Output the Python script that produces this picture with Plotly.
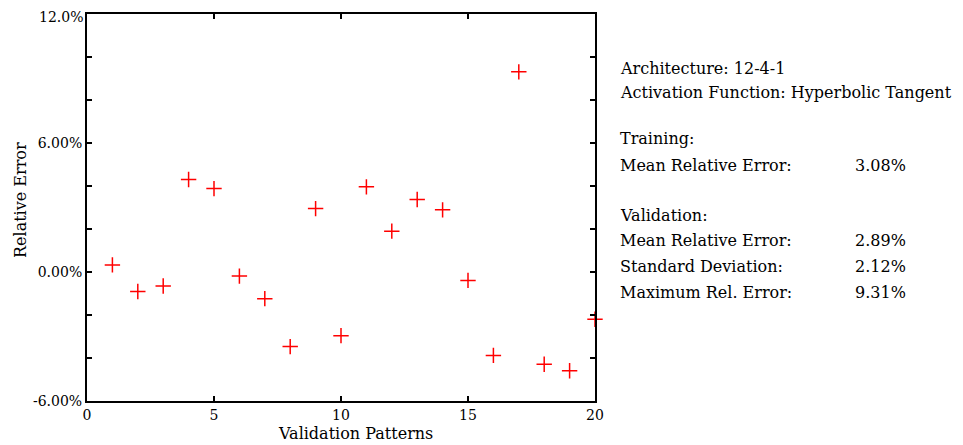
import plotly.graph_objects as go

patterns = list(range(1, 21))
rel_error = [0.33, -0.91, -0.65, 4.30, 3.88, -0.19, -1.24, -3.47, 2.95, -2.96,
             3.96, 1.90, 3.37, 2.89, -0.39, -3.88, 9.31, -4.29, -4.59, -2.20]

y_tickvals = [-6, -4, -2, 0, 2, 4, 6, 8, 10, 12]
y_ticktext = ["-6.00%", "", "", "0.00%", "", "", "6.00%", "", "", "12.0%"]
x_tickvals = [0, 5, 10, 15, 20]

info_labels = ["Architecture: 12-4-1", "Activation Function: Hyperbolic Tangent",
               "Training:", "Mean Relative Error:",
               "Validation:", "Mean Relative Error:", "Standard Deviation:", "Maximum Rel. Error:"]
info_values = ["", "", "", "3.08%", "", "2.89%", "2.12%", "9.31%"]
info_ypix = [68, 92, 138, 165, 215, 240, 266, 292]

FONT = "DejaVu Serif"
OFF = 8  # page body margin
W, H = 963 - OFF, 445 - OFF
L, R, T, B = 87 - OFF, 595 - OFF, 14 - OFF, 401 - OFF
pw, ph = R - L, B - T


def px(x):
    return (x - OFF - L) / pw


def py(y):
    return (B - (y - OFF)) / ph


fig = go.Figure()
fig.add_trace(go.Scatter(
    x=patterns, y=rel_error, mode="markers",
    marker=dict(symbol="cross-thin", size=11, line=dict(color="#ff0000", width=1.5), color="#ff0000"),
    cliponaxis=False, showlegend=False,
))

# the top label is drawn as an annotation so it stays inside the page
shown_ticktext = y_ticktext[:-1] + [""]

axis_common = dict(showgrid=False, zeroline=False, showline=True, linecolor="black", linewidth=2,
                   ticks="inside", ticklen=5, tickwidth=1.5, tickcolor="black", mirror="allticks",
                   automargin=False, ticklabelstandoff=0, ticklabeloverflow="allow",
                   tickfont=dict(family=FONT, size=14, color="black"))
fig.update_xaxes(range=[0, 20], tickvals=x_tickvals, **axis_common)
fig.update_yaxes(range=[-6, 12], tickvals=y_tickvals, ticktext=shown_ticktext, **axis_common)

fig.add_annotation(xref="paper", yref="paper", x=px(84), y=1 + (T - 0.5) / ph, text=y_ticktext[-1],
                   showarrow=False, xanchor="right", yanchor="top", borderpad=0,
                   font=dict(family=FONT, size=14, color="black"))

fig.add_annotation(xref="paper", yref="paper", x=px(355), y=py(433), text="Validation Patterns",
                   showarrow=False, xanchor="center", yanchor="middle",
                   font=dict(family=FONT, size=16, color="black"))
fig.add_annotation(xref="paper", yref="paper", x=px(20), y=py(200), text="Relative Error",
                   showarrow=False, xanchor="center", yanchor="middle", textangle=-90,
                   font=dict(family=FONT, size=16, color="black"))

for lab, val, yp in zip(info_labels, info_values, info_ypix):
    fig.add_annotation(xref="paper", yref="paper", x=px(618), y=py(yp), text=lab,
                       showarrow=False, xanchor="left", yanchor="middle",
                       font=dict(family=FONT, size=16, color="black"))
    if val:
        fig.add_annotation(xref="paper", yref="paper", x=px(853), y=py(yp), text=val,
                           showarrow=False, xanchor="left", yanchor="middle",
                           font=dict(family=FONT, size=16, color="black"))

fig.update_layout(width=W, height=H, margin=dict(l=L, r=W - R, t=T, b=H - B, autoexpand=False),
                  plot_bgcolor="white", paper_bgcolor="white",
                  font=dict(family=FONT, color="black"))
fig.write_html("out.html")
